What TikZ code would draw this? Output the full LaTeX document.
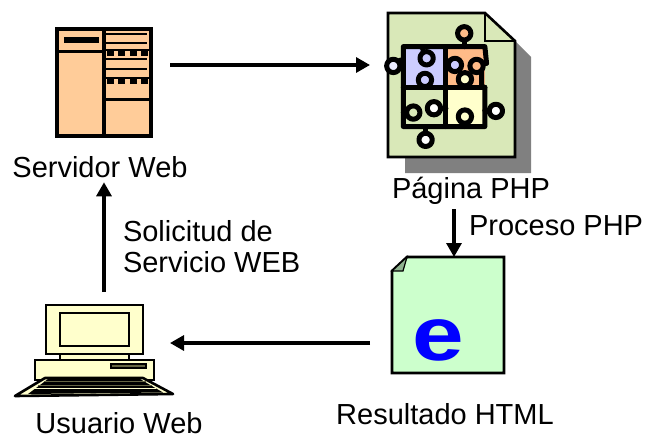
\documentclass[tikz,border=0pt]{standalone}
\usepackage{fontspec}
\setmainfont{Liberation Sans}
\usetikzlibrary{arrows.meta}

\definecolor{naranja}{HTML}{FFCC99}
\definecolor{naranjap}{HTML}{FFBB88}
\definecolor{crema}{HTML}{FFFFCC}
\definecolor{verdep}{HTML}{D9E8B8}
\definecolor{verdeh}{HTML}{CCFFCC}
\definecolor{lila}{HTML}{CCCCFF}
\definecolor{sombra}{HTML}{808080}
\definecolor{oliva}{HTML}{666644}

\tikzset{
  flecha/.style={line width=3.2pt,-{Triangle[length=14pt,width=15pt]}},
  icono/.style={inner sep=0pt,outer sep=0pt},
  texto/.style={inner sep=0pt,outer sep=0pt,font=\fontsize{29}{34}\selectfont},
  linea/.style={draw=black,line width=2.6pt},
  pieza/.style={draw=black,line width=5pt,line join=round,line cap=round},
}

\begin{document}
\begin{tikzpicture}[x=1pt,y=-1pt]

  \newcommand\knob[5]{
    \draw[pieza] (#4,#5) .. controls (#1,#5) and (#4,#2) .. (#1,#2);
    \draw[pieza,fill=#3] (#1,#2) circle (20);
  }
  \useasboundingbox (0,0) rectangle (645,437);

  \node[icono,minimum width=94pt,minimum height=107pt] (servidor) at (104,82.5) {};
  \node[icono,minimum width=127pt,minimum height=144pt] (pagina) at (451.5,85) {};
  \node[icono,minimum width=112pt,minimum height=116pt] (resultado) at (448,315) {};
  \node[icono,minimum width=159pt,minimum height=91pt] (usuario) at (94.5,350.5) {};

  \node[texto,anchor=base] (servidortxt) at (100,177) {Servidor Web};
  \node[texto,anchor=base] (paginatxt) at (471,198) {Página PHP};
  \node[texto,anchor=base west] (procesotxt) at (469,235) {Proceso PHP};
  \node[texto,anchor=base west] (solicitudtxt) at (123,241) {Solicitud de};
  \node[texto,anchor=base west] (serviciotxt) at (123,272) {Servicio WEB};
  \node[texto,anchor=base] (usuariotxt) at (119,433) {Usuario Web};
  \node[texto,anchor=base] (resultadotxt) at (445,424) {Resultado HTML};

  % servidor
  \draw[line width=4pt,fill=naranja] (servidor.north west) rectangle (servidor.south east);
  \draw[line width=4.5pt] (104,29) -- (104,136);
  \draw[line width=3.5pt] (57,51.5) -- (104,51.5);
  \draw[line width=3pt] (104,99) -- (151,99);
  \fill (64,37) rectangle (99,43);
  \foreach \y in {34,43,59,69}
    \draw[line width=2.4pt] (106,\y) -- (147,\y);
  \foreach \y in {52,80}{
    \draw[line width=2.4pt] (106,\y-2) -- (149,\y-2);
    \foreach \x in {107,118,130,141}
      \fill (\x,\y-2) rectangle +(7,6);
  }

  % pagina
  \fill[sombra] (515,41) -- (531,57) -- (531,173) -- (405,173) -- (405,157) -- (515,157) -- cycle;
  \draw[linea,fill=verdep] (388,13) -- (485,13) -- (515,41) -- (515,157) -- (388,157) -- cycle;
  \draw[linea] (485,13) -- (485,41) -- (515,41);

  \begin{scope}[shift={(370,0)},x=0.333pt,y=-0.333pt]
    \fill[lila] (100,140) rectangle (228,262);
    \fill[naranjap] (228,140) rectangle (345,262);
    \fill[crema] (228,268) rectangle (345,380);
    \draw[pieza] (100,140) -- (345,140) -- (350,190) (335,205) -- (335,262) -- (345,262) -- (345,380) -- (100,380) -- (100,140);
    \draw[pieza] (100,262) -- (345,262);
    \draw[pieza] (228,140) -- (228,380);
    \knob{283}{100}{naranjap}{283}{140}
    \knob{70}{198}{lila!40!white}{100}{180}
    \knob{167}{420}{white}{167}{380}
    \knob{378}{333}{white}{345}{333}
    \knob{170}{175}{lila}{150}{140}
    \knob{165}{240}{lila}{165}{262}
    \knob{255}{195}{lila}{228}{195}
    \knob{320}{198}{naranjap}{350}{190}
    \knob{285}{238}{crema}{285}{262}
    \knob{130}{338}{verdep}{100}{338}
    \knob{192}{325}{white}{228}{325}
    \knob{285}{350}{crema}{285}{380}
  \end{scope}

  % resultado
  \draw[linea,fill=verdeh] (407,257) -- (504,257) -- (504,373) -- (392,373) -- (392,271) -- cycle;
  \draw[line width=1.2pt,fill=verdeh!70!black] (392,271) -- (407,257) -- (403,271) -- cycle;
  \node[icono,text=blue,font=\fontsize{76}{76}\selectfont\bfseries] (letra) at (438,340) {\scalebox{1.22}[1]{e}};

  % usuario
  \draw[linea,fill=crema] (60,354) rectangle (129,360);
  \draw[linea,fill=crema] (46,305) rectangle (143,354);
  \draw[linea,fill=crema] (60,313) rectangle (129,346);
  \draw[linea,fill=crema] (35,360) rectangle (154,380);
  \draw[line width=1.2pt,fill=oliva] (111,364) rectangle (146,368);
  \draw[linea,fill=crema,line join=round] (45,378) -- (143,378) -- (173,394) -- (15,396) -- cycle;
  \fill (48,379) -- (140,379) -- (163,392.5) -- (28,394) -- cycle;
  \draw[oliva,line width=1pt] (44,381.5) -- (146,381.5) (38,385) -- (152,385);
  \draw[crema,line width=0.8pt] (34,388) -- (156,388);

  \draw[flecha] ([shift={(19,-17.5)}]servidor.east) -- ([shift={(-18,-20)}]pagina.west);
  \draw[flecha] ([shift={(9.5,-13)}]usuario.north) -- ([shift={(4,5)}]servidortxt.south);
  \draw[flecha] ([shift={(-22,28)}]resultado.west) -- ([shift={(-4,-7.5)}]usuario.east);
  \draw[flecha] ([shift={(-17,5)}]paginatxt.south) -- ([xshift=6pt]resultado.north);

\end{tikzpicture}
\end{document}
